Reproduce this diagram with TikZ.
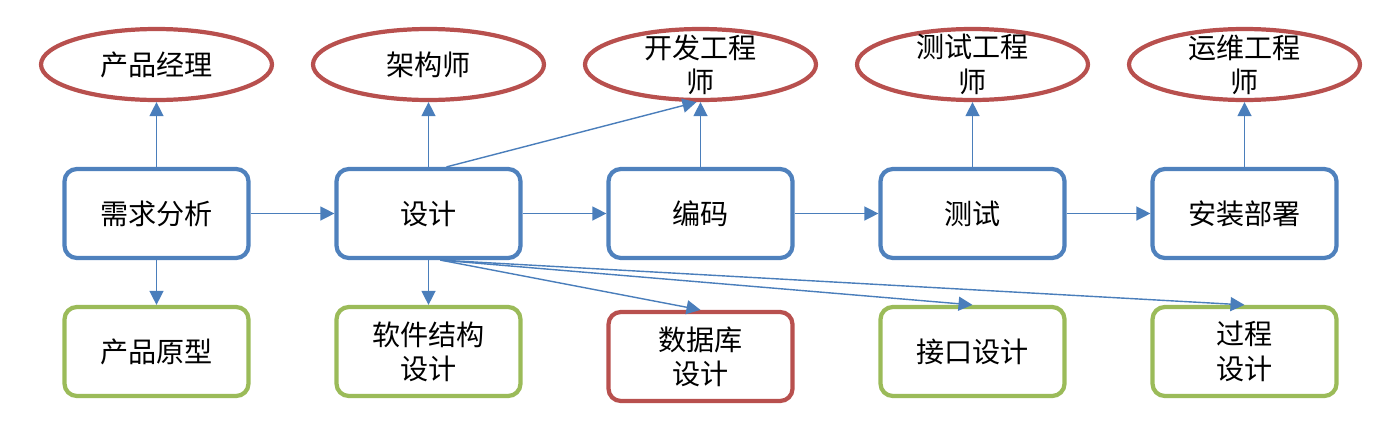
\documentclass[tikz,border=0pt]{standalone}
\usepackage{fontspec}
\newfontfamily\cjk{Noto Sans CJK SC}
\usepackage{xcolor}
\usepackage{tikz}
\usetikzlibrary{shapes,arrows,arrows.meta}
\definecolor{boxblue}{RGB}{79,129,189}
\definecolor{lineblue}{RGB}{74,126,187}
\definecolor{rolered}{RGB}{184,80,78}
\definecolor{docgreen}{RGB}{155,187,89}

\begin{document}
\begin{tikzpicture}[textbox/.style={font=\cjk\fontsize{16}{19.5}\selectfont, draw, line width=2.4pt, rounded corners=7pt, minimum width=3.68cm, minimum height=1.78cm, inner sep=2pt, align=center},
role/.style={font=\cjk\fontsize{16}{19.5}\selectfont, draw=rolered, line width=2.4pt, ellipse, minimum width=4.62cm, minimum height=1.42cm, inner xsep=2pt, inner ysep=-10pt, align=center},
link/.style={draw=lineblue, line width=0.8pt, -{Triangle[length=0.28cm, width=0.28cm]}}]
\useasboundingbox (0,0) rectangle (27.72,8.56);
%roles
\node[role] (r1) at (3.13,7.27) {产品经理};
\node[role] (r2) at (8.57,7.27) {架构师};
\node[role] (r3) at (14.01,7.27) {开发工程\\师};
\node[role] (r4) at (19.45,7.27) {测试工程\\师};
\node[role] (r5) at (24.89,7.27) {运维工程\\师};
%stages
\node[textbox, draw=boxblue] (s1) at (3.13,4.29) {需求分析};
\node[textbox, draw=boxblue] (s2) at (8.57,4.29) {设计};
\node[textbox, draw=boxblue] (s3) at (14.01,4.29) {编码};
\node[textbox, draw=boxblue] (s4) at (19.45,4.29) {测试};
\node[textbox, draw=boxblue] (s5) at (24.89,4.29) {安装部署};
%outputs
\node[textbox, draw=docgreen] (d1) at (3.13,1.53) {产品原型};
\node[textbox, draw=docgreen] (d2) at (8.57,1.53) {软件结构\\设计};
\node[textbox, draw=rolered] (d3) at (14.01,1.43) {数据库\\设计};
\node[textbox, draw=docgreen] (d4) at (19.45,1.53) {接口设计};
\node[textbox, draw=docgreen] (d5) at (24.89,1.53) {过程\\设计};
\draw [link] (s1) -- (s2);
\draw [link] (s2) -- (s3);
\draw [link] (s3) -- (s4);
\draw [link] (s4) -- (s5);
\draw [link] (s1.north) -- (r1.south);
\draw [link] (s2.north) -- (r2.south);
\draw [link] (s3.north) -- (r3.south);
\draw [link] (s4.north) -- (r4.south);
\draw [link] (s5.north) -- (r5.south);
\draw [link] ([xshift=0.36cm]s2.north) -- ([xshift=-0.08cm]r3.south);
\draw [link] (s1.south) -- (d1.north);
\draw [link] (s2.south) -- (d2.north);
\draw [link] ([xshift=0.24cm]s2.south) -- (d3.north);
\draw [link] ([xshift=0.24cm]s2.south) -- (d4.north);
\draw [link] ([xshift=0.24cm]s2.south) -- (d5.north);
\end{tikzpicture}
\end{document}
